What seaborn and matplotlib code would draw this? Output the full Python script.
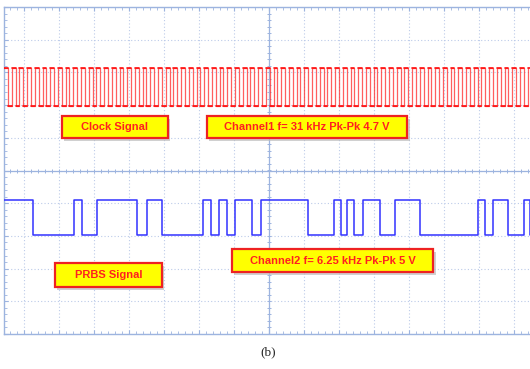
## import
import matplotlib
matplotlib.use("Agg")
import matplotlib.pyplot as plt
import matplotlib.patches as patches
import numpy as np
import pandas as pd
import seaborn as sns

## data (x in divisions, y in divisions)
# clock, channel 1
clock_period = 0.22          # div per cycle
clock_start = -0.571         # first rising edge
clock_end = 14.457
clock_high = 8.13
clock_low = 6.97

# prbs, channel 2 : edge times, level starts high
prbs_edges = [-0.571, 0.257, 1.429, 1.657, 2.086, 3.229, 3.514, 3.943, 5.114,
              5.343, 5.571, 5.800, 6.029, 6.514, 6.771, 8.114, 8.857, 9.057,
              9.229, 9.429, 9.686, 10.171, 10.600, 11.314, 12.971, 13.171,
              13.400, 13.829, 14.286, 14.457]
prbs_high = 4.10
prbs_low = 3.03

labels = ["Clock Signal", "Channel1 f= 31 kHz Pk-Pk 4.7 V",
          "PRBS Signal", "Channel2 f= 6.25 kHz Pk-Pk 5 V"]
caption = "(b)"

## build step tables
n_clk = int((clock_end - clock_start) / clock_period) + 1
clk_t = []
clk_v = []
for ii in range(n_clk):
    t0 = clock_start + ii * clock_period
    clk_t += [t0, t0 + clock_period / 2]
    clk_v += [clock_high, clock_low]
clk = pd.DataFrame({"t": clk_t, "v": clk_v})
clk = clk[clk.t <= clock_end]

prbs_v = [prbs_high if ii % 2 == 0 else prbs_low for ii in range(len(prbs_edges))]
prbs = pd.DataFrame({"t": prbs_edges, "v": prbs_v})

# flat parts of the clock, one unit per level segment (edges drawn fainter)
seg_t, seg_v, seg_u = [], [], []
tt = list(clk.t) + [clock_end]
for jj in range(len(clk)):
    seg_t += [tt[jj], tt[jj + 1]]
    seg_v += [clk.v.iloc[jj]] * 2
    seg_u += [jj, jj]
clk_flat = pd.DataFrame({"t": seg_t, "v": seg_v, "u": seg_u})

## figure
sns.set_style("white")
plt.rcParams['font.family'] = ['Liberation Sans', 'DejaVu Sans']

fig = plt.figure(figsize=(5.30, 3.69), dpi=100)
ax = fig.add_axes([4 / 530, 35 / 369, 526 / 530, 327 / 369])

grid_col = "#bccbe9"
edge_col = "#9db4df"

ax.set_xlim(-0.571, 14.457)
ax.set_ylim(0, 10)
ax.set_xticks(range(0, 15))
ax.set_yticks(range(0, 11))
ax.set_xticks(np.arange(-0.4, 14.45, 0.2), minor=True)
ax.set_yticks(np.arange(0, 10.01, 0.2), minor=True)
ax.grid(True, which="major", color=grid_col, linestyle=(0, (1, 2)), linewidth=0.8)
ax.tick_params(which="both", direction="in", color=edge_col, labelleft=False,
               labelbottom=False, top=True, left=True, bottom=True, right=False)
ax.tick_params(which="major", length=3)
ax.tick_params(which="minor", length=2)
for side in ["left", "top", "bottom"]:
    ax.spines[side].set_color(edge_col)
    ax.spines[side].set_linewidth(1.0)
ax.spines["right"].set_visible(False)

# center cross with small ticks
ax.axhline(5, color=edge_col, lw=0.9, zorder=1)
ax.axvline(7, color=edge_col, lw=0.9, zorder=1)
mx = np.arange(-0.4, 14.45, 0.2)
my = np.arange(0.2, 10, 0.2)
ax.plot(mx, np.full(mx.size, 5.0), ls="", marker="|", ms=3.5, mew=0.7, color=edge_col, zorder=1)
ax.plot(np.full(my.size, 7.0), my, ls="", marker="_", ms=3.5, mew=0.7, color=edge_col, zorder=1)

# signals
sns.lineplot(data=clk, x="t", y="v", drawstyle="steps-post", color="#ff2a2a",
             lw=0.9, alpha=0.75, ax=ax, zorder=3)
sns.lineplot(data=clk_flat, x="t", y="v", units="u", estimator=None, color="#ff0c0c",
             lw=1.2, ax=ax, zorder=4)
sns.lineplot(data=prbs, x="t", y="v", drawstyle="steps-post", color="#3232ff",
             lw=1.1, ax=ax, zorder=4)
ax.set_xlabel("")
ax.set_ylabel("")


## labels in yellow boxes (pixel positions converted to divisions)
def px2div(px, py):
    return (px - 24) / 35.0, (334 - py) / 32.7


boxes = [(62, 116, 168, 138), (207, 116, 407, 138),
         (55, 263, 162, 287), (232, 249, 433, 272)]
for lab, (x0, y0, x1, y1) in zip(labels, boxes):
    dx0, dy1 = px2div(x0, y1)
    dx1, dy0 = px2div(x1, y0)
    sx, sy = 2.5 / 35.0, 2.5 / 32.7
    ax.add_patch(patches.Rectangle((dx0 + sx, dy1 - sy), dx1 - dx0, dy0 - dy1,
                                   facecolor="#bdbdbd", edgecolor="none", alpha=0.7, zorder=5))
    ax.add_patch(patches.Rectangle((dx0, dy1), dx1 - dx0, dy0 - dy1,
                                   facecolor="#ffff00", edgecolor="#ee2222", lw=1.6, zorder=6))
    ax.text((dx0 + dx1) / 2, (dy0 + dy1) / 2, lab, ha="center", va="center",
            color="#ff2020", fontsize=8, fontweight="bold", zorder=7)

fig.text(268 / 530, 1 - 352 / 369, caption, ha="center", va="center",
         fontsize=9.5, family=["Liberation Serif", "DejaVu Serif"])

fig.savefig("out.png", dpi=100)
